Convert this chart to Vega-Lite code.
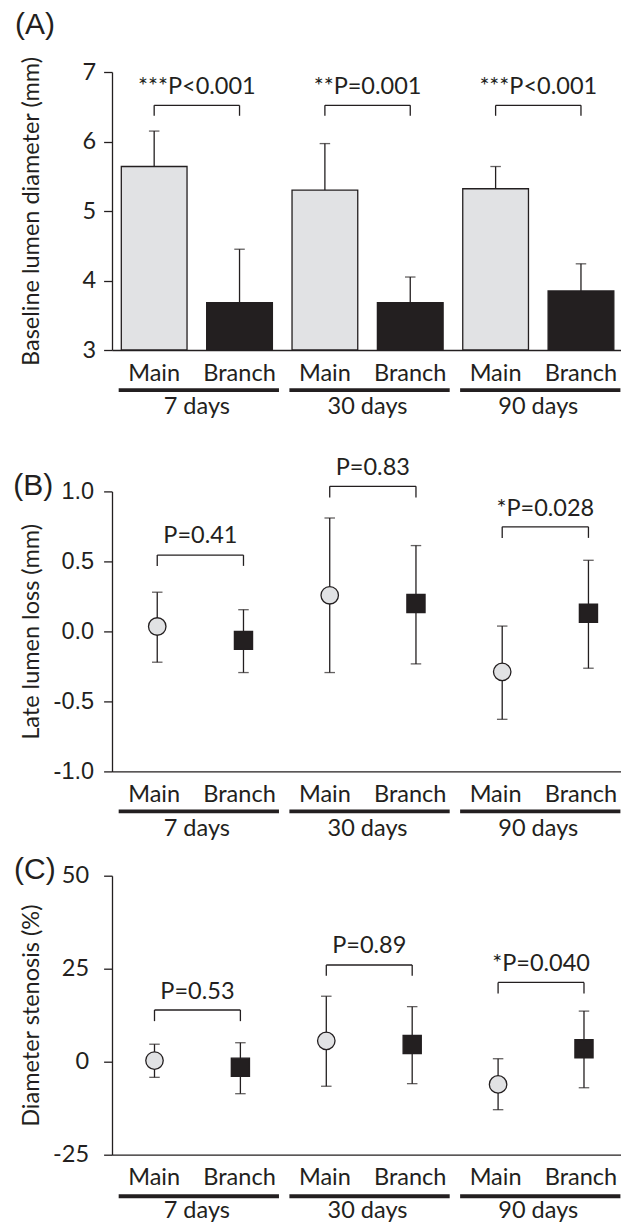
{
  "$schema": "https://vega.github.io/schema/vega-lite/v6.json",
  "padding": {"left": 13, "top": 9, "right": 0, "bottom": 0},
  "bounds": "flush",
  "spacing": 141.4,
  "config": {
    "font": "Lato",
    "view": {"stroke": null},
    "axis": {"labelColor": "#231f20", "titleColor": "#231f20", "domainColor": "#231f20", "tickColor": "#231f20", "labelFont": "Lato", "titleFont": "Lato", "labelFontSize": 23.5, "titleFontSize": 23.5, "titleFontWeight": "normal", "grid": false, "domainWidth": 1.3, "tickWidth": 1.3},
    "axisX": {"ticks": false, "labelAngle": 0, "labelPadding": 11},
    "axisY": {"tickSize": 8.4, "titleX": -73.7, "titleBaseline": "alphabetic"},
    "title": {"font": "Liberation Sans", "fontSize": 30, "fontWeight": "normal", "color": "#231f20", "anchor": "start", "frame": "group", "offset": 0, "baseline": "alphabetic"}
  },
  "datasets": {
    "A": [
      {"cat": "7 days|Main", "type": "Main", "mean": 5.64, "hi": 6.15},
      {"cat": "7 days|Branch", "type": "Branch", "mean": 3.68, "hi": 4.45},
      {"cat": "30 days|Main", "type": "Main", "mean": 5.30, "hi": 5.97},
      {"cat": "30 days|Branch", "type": "Branch", "mean": 3.68, "hi": 4.05},
      {"cat": "90 days|Main", "type": "Main", "mean": 5.32, "hi": 5.64},
      {"cat": "90 days|Branch", "type": "Branch", "mean": 3.85, "hi": 4.24}
    ],
    "Abr": [
      {"main": "7 days|Main", "branch": "7 days|Branch", "top": 6.52, "leg": 6.37, "ty": 6.68, "label": "***P<0.001"},
      {"main": "30 days|Main", "branch": "30 days|Branch", "top": 6.52, "leg": 6.37, "ty": 6.68, "label": "**P=0.001"},
      {"main": "90 days|Main", "branch": "90 days|Branch", "top": 6.52, "leg": 6.37, "ty": 6.68, "label": "***P<0.001"}
    ],
    "B": [
      {"cat": "7 days|Main", "type": "Main", "mean": 0.035, "lo": -0.22, "hi": 0.28},
      {"cat": "7 days|Branch", "type": "Branch", "mean": -0.064, "lo": -0.294, "hi": 0.155},
      {"cat": "30 days|Main", "type": "Main", "mean": 0.258, "lo": -0.294, "hi": 0.81},
      {"cat": "30 days|Branch", "type": "Branch", "mean": 0.20, "lo": -0.232, "hi": 0.613},
      {"cat": "90 days|Main", "type": "Main", "mean": -0.289, "lo": -0.628, "hi": 0.038},
      {"cat": "90 days|Branch", "type": "Branch", "mean": 0.129, "lo": -0.263, "hi": 0.508}
    ],
    "Bbr": [
      {"main": "7 days|Main", "branch": "7 days|Branch", "top": 0.545, "leg": 0.468, "ty": 0.628, "label": "P=0.41"},
      {"main": "30 days|Main", "branch": "30 days|Branch", "top": 1.036, "leg": 0.957, "ty": 1.119, "label": "P=0.83"},
      {"main": "90 days|Main", "branch": "90 days|Branch", "top": 0.747, "leg": 0.668, "ty": 0.826, "label": "*P=0.028"}
    ],
    "C": [
      {"cat": "7 days|Main", "type": "Main", "mean": 0.3, "lo": -4.2, "hi": 4.7},
      {"cat": "7 days|Branch", "type": "Branch", "mean": -1.5, "lo": -8.6, "hi": 5.1},
      {"cat": "30 days|Main", "type": "Main", "mean": 5.6, "lo": -6.6, "hi": 17.6},
      {"cat": "30 days|Branch", "type": "Branch", "mean": 4.6, "lo": -5.9, "hi": 14.8},
      {"cat": "90 days|Main", "type": "Main", "mean": -6.1, "lo": -12.9, "hi": 0.8},
      {"cat": "90 days|Branch", "type": "Branch", "mean": 3.5, "lo": -7.0, "hi": 13.6}
    ],
    "Cbr": [
      {"main": "7 days|Main", "branch": "7 days|Branch", "top": 13.9, "leg": 10.9, "ty": 16.9, "label": "P=0.53"},
      {"main": "30 days|Main", "branch": "30 days|Branch", "top": 26.0, "leg": 23.1, "ty": 29.2, "label": "P=0.89"},
      {"main": "90 days|Main", "branch": "90 days|Branch", "top": 21.3, "leg": 18.3, "ty": 24.5, "label": "*P=0.040"}
    ],
    "grp": [
      {"main": "7 days|Main", "branch": "7 days|Branch", "group": "7 days"},
      {"main": "30 days|Main", "branch": "30 days|Branch", "group": "30 days"},
      {"main": "90 days|Main", "branch": "90 days|Branch", "group": "90 days"}
    ]
  },
  "vconcat": [
    {
      "width": 509,
      "height": 278,
      "title": {"text": "(A)", "dx": -97, "dy": -12.5},
      "layer": [
        {
          "data": {"name": "A"},
          "mark": {"type": "rule", "color": "#231f20", "strokeWidth": 1.3},
          "encoding": {
            "x": {"field": "cat", "type": "nominal", "scale": {"type": "band", "domain": ["7 days|Main", "7 days|Branch", "30 days|Main", "30 days|Branch", "90 days|Main", "90 days|Branch"], "paddingInner": 0.23, "paddingOuter": 0.0965, "align": 0.565, "round": false}, "axis": {"title": null, "labelExpr": "split(datum.label, '|')[1]"}},
            "y": {"field": "mean", "type": "quantitative", "scale": {"domain": [3, 7], "nice": false, "zero": false}, "axis": {"values": [3, 4, 5, 6, 7], "format": "d", "title": "Baseline lumen diameter (mm)", "labelPadding": 8}},
            "y2": {"field": "hi"}
          }
        },
        {
          "data": {"name": "A"},
          "mark": {"type": "tick", "color": "#231f20", "thickness": 1.3, "size": 10.5, "orient": "horizontal"},
          "encoding": {
            "x": {"field": "cat", "type": "nominal"},
            "y": {"field": "hi", "type": "quantitative"}
          }
        },
        {
          "data": {"name": "A"},
          "mark": {"type": "bar", "stroke": "#231f20", "strokeWidth": 1.3},
          "encoding": {
            "x": {"field": "cat", "type": "nominal"},
            "y": {"field": "mean", "type": "quantitative"},
            "y2": {"datum": 3},
            "fill": {"field": "type", "type": "nominal", "scale": {"domain": ["Main", "Branch"], "range": ["#e1e2e4", "#231f20"]}, "legend": null}
          }
        },
        {
          "data": {"name": "Abr"},
          "mark": {"type": "rule", "color": "#231f20", "strokeWidth": 1.3},
          "encoding": {
            "x": {"field": "main", "type": "nominal"},
            "x2": {"field": "branch"},
            "y": {"field": "top", "type": "quantitative"}
          }
        },
        {
          "data": {"name": "Abr"},
          "mark": {"type": "rule", "color": "#231f20", "strokeWidth": 1.3},
          "encoding": {
            "x": {"field": "main", "type": "nominal"},
            "y": {"field": "top", "type": "quantitative"},
            "y2": {"field": "leg"}
          }
        },
        {
          "data": {"name": "Abr"},
          "mark": {"type": "rule", "color": "#231f20", "strokeWidth": 1.3},
          "encoding": {
            "x": {"field": "branch", "type": "nominal"},
            "y": {"field": "top", "type": "quantitative"},
            "y2": {"field": "leg"}
          }
        },
        {
          "data": {"name": "Abr"},
          "mark": {"type": "text", "font": "Lato", "fontSize": 23.5, "color": "#231f20", "baseline": "alphabetic", "align": "center"},
          "encoding": {
            "x": {"field": "main", "type": "nominal", "bandPosition": 1.149},
            "y": {"field": "ty", "type": "quantitative"},
            "text": {"field": "label"}
          }
        },
        {
          "data": {"name": "grp"},
          "mark": {"type": "rule", "color": "#231f20", "strokeWidth": 3.8},
          "encoding": {
            "x": {"field": "main", "type": "nominal", "bandPosition": -0.04},
            "x2": {"field": "branch", "bandPosition": 1.1},
            "y": {"datum": 2.424}
          }
        },
        {
          "data": {"name": "grp"},
          "mark": {"type": "text", "font": "Lato", "fontSize": 23.5, "color": "#231f20", "baseline": "alphabetic", "align": "center"},
          "encoding": {
            "x": {"field": "main", "type": "nominal", "bandPosition": 1.149},
            "y": {"datum": 2.079},
            "text": {"field": "group"}
          }
        }
      ]
    },
    {
      "bounds": "flush",
      "spacing": 104.3,
      "vconcat": [
        {
          "width": 509,
          "height": 280,
          "title": {"text": "(B)", "dx": -98.7, "dy": 49},
          "resolve": {"scale": {"x": "independent"}},
          "layer": [
            {
              "data": {"name": "grp"},
              "layer": [
                {
                  "mark": {"type": "rule", "color": "#231f20", "strokeWidth": 3.8},
                  "encoding": {
                    "x": {"field": "main", "type": "nominal", "bandPosition": -0.04, "scale": {"type": "band", "domain": ["7 days|Main", "7 days|Branch", "30 days|Main", "30 days|Branch", "90 days|Main", "90 days|Branch"], "paddingInner": 0.23, "paddingOuter": 0.0965, "align": 0.565, "round": false}, "axis": {"title": null, "labelExpr": "split(datum.label, '|')[1]"}},
                    "x2": {"field": "branch", "bandPosition": 1.1},
                    "y": {"datum": -1.286, "type": "quantitative", "scale": {"domain": [-1, 1], "nice": false, "zero": false}, "axis": {"values": [-1, -0.5, 0, 0.5, 1], "labelExpr": "datum.value < 0 ? '-' + format(-datum.value, '.1f') : format(datum.value, '.1f')", "labelFont": "Liberation Sans", "labelPadding": 10, "title": "Late lumen loss (mm)"}}
                  }
                },
                {
                  "mark": {"type": "text", "font": "Lato", "fontSize": 23.5, "color": "#231f20", "baseline": "alphabetic", "align": "center"},
                  "encoding": {
                    "x": {"field": "main", "type": "nominal", "bandPosition": 1.149},
                    "y": {"datum": -1.459, "type": "quantitative"},
                    "text": {"field": "group"}
                  }
                }
              ]
            },
            {
              "layer": [
                {
                  "data": {"name": "B"},
                  "mark": {"type": "rule", "color": "#231f20", "strokeWidth": 1.3},
                  "encoding": {
                    "x": {"field": "cat", "type": "nominal", "scale": {"type": "band", "domain": ["7 days|Main", "7 days|Branch", "30 days|Main", "30 days|Branch", "90 days|Main", "90 days|Branch"], "paddingInner": 0.5, "paddingOuter": 0.201, "align": 0.683, "round": false}, "axis": null},
                    "y": {"field": "lo", "type": "quantitative", "scale": {"domain": [-1, 1], "nice": false, "zero": false}},
                    "y2": {"field": "hi"}
                  }
                },
                {
                  "data": {"name": "B"},
                  "mark": {"type": "tick", "color": "#231f20", "thickness": 1.3, "size": 10.5, "orient": "horizontal"},
                  "encoding": {
                    "x": {"field": "cat", "type": "nominal"},
                    "y": {"field": "hi", "type": "quantitative"}
                  }
                },
                {
                  "data": {"name": "B"},
                  "mark": {"type": "tick", "color": "#231f20", "thickness": 1.3, "size": 10.5, "orient": "horizontal"},
                  "encoding": {
                    "x": {"field": "cat", "type": "nominal"},
                    "y": {"field": "lo", "type": "quantitative"}
                  }
                },
                {
                  "data": {"name": "B"},
                  "mark": {"type": "point", "filled": true, "opacity": 1, "stroke": "#231f20", "strokeWidth": 1.3},
                  "encoding": {
                    "x": {"field": "cat", "type": "nominal"},
                    "y": {"field": "mean", "type": "quantitative"},
                    "shape": {"field": "type", "type": "nominal", "scale": {"domain": ["Main", "Branch"], "range": ["circle", "square"]}, "legend": null},
                    "fill": {"field": "type", "type": "nominal", "scale": {"domain": ["Main", "Branch"], "range": ["#e1e2e4", "#231f20"]}, "legend": null},
                    "size": {"field": "type", "type": "ordinal", "scale": {"domain": ["Main", "Branch"], "range": [305, 330]}, "legend": null}
                  }
                },
                {
                  "data": {"name": "Bbr"},
                  "mark": {"type": "rule", "color": "#231f20", "strokeWidth": 1.3},
                  "encoding": {
                    "x": {"field": "main", "type": "nominal"},
                    "x2": {"field": "branch"},
                    "y": {"field": "top", "type": "quantitative"}
                  }
                },
                {
                  "data": {"name": "Bbr"},
                  "mark": {"type": "rule", "color": "#231f20", "strokeWidth": 1.3},
                  "encoding": {
                    "x": {"field": "main", "type": "nominal"},
                    "y": {"field": "top", "type": "quantitative"},
                    "y2": {"field": "leg"}
                  }
                },
                {
                  "data": {"name": "Bbr"},
                  "mark": {"type": "rule", "color": "#231f20", "strokeWidth": 1.3},
                  "encoding": {
                    "x": {"field": "branch", "type": "nominal"},
                    "y": {"field": "top", "type": "quantitative"},
                    "y2": {"field": "leg"}
                  }
                },
                {
                  "data": {"name": "Bbr"},
                  "mark": {"type": "text", "font": "Lato", "fontSize": 23.5, "color": "#231f20", "baseline": "alphabetic", "align": "center"},
                  "encoding": {
                    "x": {"field": "main", "type": "nominal", "bandPosition": 1.5},
                    "y": {"field": "ty", "type": "quantitative"},
                    "text": {"field": "label"}
                  }
                }
              ]
            }
          ]
        },
        {
          "width": 509,
          "height": 279,
          "title": {"text": "(C)", "dx": -98, "dy": 25},
          "resolve": {"scale": {"x": "independent"}},
          "layer": [
            {
              "data": {"name": "grp"},
              "layer": [
                {
                  "mark": {"type": "rule", "color": "#231f20", "strokeWidth": 3.8},
                  "encoding": {
                    "x": {"field": "main", "type": "nominal", "bandPosition": -0.04, "scale": {"type": "band", "domain": ["7 days|Main", "7 days|Branch", "30 days|Main", "30 days|Branch", "90 days|Main", "90 days|Branch"], "paddingInner": 0.23, "paddingOuter": 0.0965, "align": 0.565, "round": false}, "axis": {"title": null, "labelExpr": "split(datum.label, '|')[1]"}},
                    "x2": {"field": "branch", "bandPosition": 1.1},
                    "y": {"datum": -36.17, "type": "quantitative", "scale": {"domain": [-25, 50], "nice": false, "zero": false}, "axis": {"values": [-25, 0, 25, 50], "labelExpr": "datum.value < 0 ? '-' + format(-datum.value, 'd') : format(datum.value, 'd')", "labelPadding": 15, "title": "Diameter stenosis (%)"}}
                  }
                },
                {
                  "mark": {"type": "text", "font": "Lato", "fontSize": 23.5, "color": "#231f20", "baseline": "alphabetic", "align": "center"},
                  "encoding": {
                    "x": {"field": "main", "type": "nominal", "bandPosition": 1.149},
                    "y": {"datum": -42.14, "type": "quantitative"},
                    "text": {"field": "group"}
                  }
                }
              ]
            },
            {
              "layer": [
                {
                  "data": {"name": "C"},
                  "mark": {"type": "rule", "color": "#231f20", "strokeWidth": 1.3},
                  "encoding": {
                    "x": {"field": "cat", "type": "nominal", "scale": {"type": "band", "domain": ["7 days|Main", "7 days|Branch", "30 days|Main", "30 days|Branch", "90 days|Main", "90 days|Branch"], "paddingInner": 0.5, "paddingOuter": 0.2128, "align": 0.575, "round": false}, "axis": null},
                    "y": {"field": "lo", "type": "quantitative", "scale": {"domain": [-25, 50], "nice": false, "zero": false}},
                    "y2": {"field": "hi"}
                  }
                },
                {
                  "data": {"name": "C"},
                  "mark": {"type": "tick", "color": "#231f20", "thickness": 1.3, "size": 10.5, "orient": "horizontal"},
                  "encoding": {
                    "x": {"field": "cat", "type": "nominal"},
                    "y": {"field": "hi", "type": "quantitative"}
                  }
                },
                {
                  "data": {"name": "C"},
                  "mark": {"type": "tick", "color": "#231f20", "thickness": 1.3, "size": 10.5, "orient": "horizontal"},
                  "encoding": {
                    "x": {"field": "cat", "type": "nominal"},
                    "y": {"field": "lo", "type": "quantitative"}
                  }
                },
                {
                  "data": {"name": "C"},
                  "mark": {"type": "point", "filled": true, "opacity": 1, "stroke": "#231f20", "strokeWidth": 1.3},
                  "encoding": {
                    "x": {"field": "cat", "type": "nominal"},
                    "y": {"field": "mean", "type": "quantitative"},
                    "shape": {"field": "type", "type": "nominal", "scale": {"domain": ["Main", "Branch"], "range": ["circle", "square"]}, "legend": null},
                    "fill": {"field": "type", "type": "nominal", "scale": {"domain": ["Main", "Branch"], "range": ["#e1e2e4", "#231f20"]}, "legend": null},
                    "size": {"field": "type", "type": "ordinal", "scale": {"domain": ["Main", "Branch"], "range": [305, 330]}, "legend": null}
                  }
                },
                {
                  "data": {"name": "Cbr"},
                  "mark": {"type": "rule", "color": "#231f20", "strokeWidth": 1.3},
                  "encoding": {
                    "x": {"field": "main", "type": "nominal"},
                    "x2": {"field": "branch"},
                    "y": {"field": "top", "type": "quantitative"}
                  }
                },
                {
                  "data": {"name": "Cbr"},
                  "mark": {"type": "rule", "color": "#231f20", "strokeWidth": 1.3},
                  "encoding": {
                    "x": {"field": "main", "type": "nominal"},
                    "y": {"field": "top", "type": "quantitative"},
                    "y2": {"field": "leg"}
                  }
                },
                {
                  "data": {"name": "Cbr"},
                  "mark": {"type": "rule", "color": "#231f20", "strokeWidth": 1.3},
                  "encoding": {
                    "x": {"field": "branch", "type": "nominal"},
                    "y": {"field": "top", "type": "quantitative"},
                    "y2": {"field": "leg"}
                  }
                },
                {
                  "data": {"name": "Cbr"},
                  "mark": {"type": "text", "font": "Lato", "fontSize": 23.5, "color": "#231f20", "baseline": "alphabetic", "align": "center"},
                  "encoding": {
                    "x": {"field": "main", "type": "nominal", "bandPosition": 1.5},
                    "y": {"field": "ty", "type": "quantitative"},
                    "text": {"field": "label"}
                  }
                }
              ]
            }
          ]
        }
      ]
    }
  ]
}
